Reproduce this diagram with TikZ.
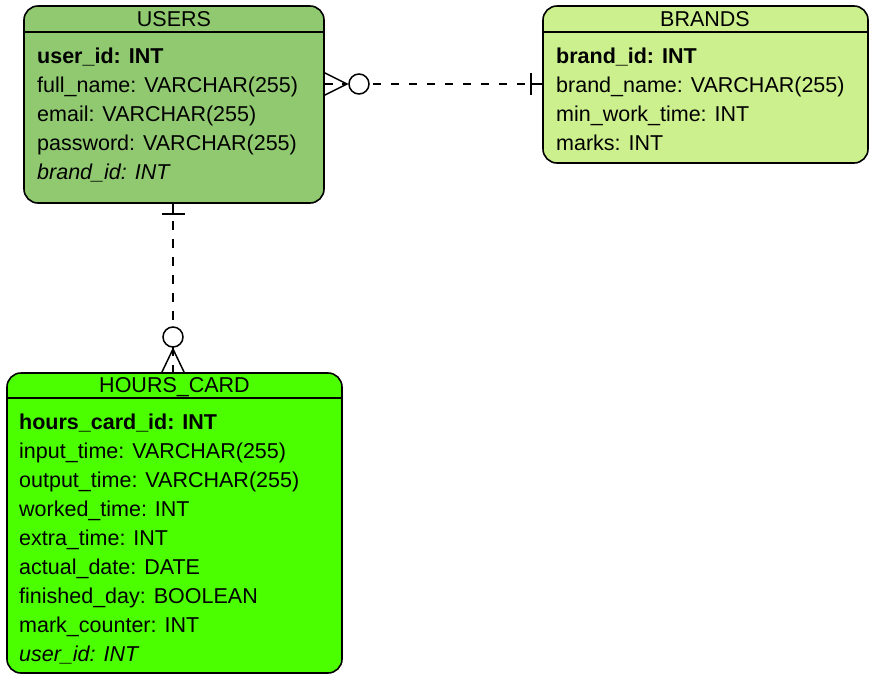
\documentclass[tikz,border=0pt]{standalone}
\usepackage{fontspec}
\setmainfont{Liberation Sans}
\definecolor{usersgreen}{RGB}{144,201,112}
\definecolor{brandsgreen}{RGB}{204,240,141}
\definecolor{hoursgreen}{RGB}{76,255,0}
\begin{document}
\begin{tikzpicture}[x=1pt,y=-1pt,
  tbl/.style={draw=black, line width=1.6pt, rounded corners=14pt, anchor=north west, inner sep=0pt, outer sep=0pt},
  hdr/.style={anchor=base, inner sep=0pt, font=\fontsize{21.5}{26}\selectfont},
  fld/.style={anchor=base west, inner sep=0pt, font=\fontsize{21.5}{26}\selectfont},
  rel/.style={line width=1.5pt, dash pattern=on 8.5pt off 9.5pt},
  sym/.style={line width=1.5pt},
  hline/.style={line width=1.6pt}]
\useasboundingbox (0,0) rectangle (871,681);

% USERS table
\node[tbl, fill=usersgreen, minimum width=300pt, minimum height=197pt] (users) at (24,6) {};
\draw[hline] (24,32) -- (324,32);
\node[hdr] (usersT) at (174,26) {USERS};
\node[fld] (u1) at (37,63) {\textbf{user\_id: INT}};
\node[fld] (u2) at (37,92) {full\_name: VARCHAR(255)};
\node[fld] (u3) at (37,121) {email: VARCHAR(255)};
\node[fld] (u4) at (37,150) {password: VARCHAR(255)};
\node[fld] (u5) at (37,179) {\textit{brand\_id: INT}};

% BRANDS table
\node[tbl, fill=brandsgreen, minimum width=325pt, minimum height=157pt] (brands) at (543,6) {};
\draw[hline] (543,32) -- (868,32);
\node[hdr] (brandsT) at (705,26) {BRANDS};
\node[fld] (b1) at (556,63) {\textbf{brand\_id: INT}};
\node[fld] (b2) at (556,92) {brand\_name: VARCHAR(255)};
\node[fld] (b3) at (556,121) {min\_work\_time: INT};
\node[fld] (b4) at (556,150) {marks: INT};

% HOURS_CARD table
\node[tbl, fill=hoursgreen, minimum width=335pt, minimum height=300pt] (hours) at (7,373) {};
\draw[hline] (7,398) -- (342,398);
\node[hdr] (hoursT) at (174.5,392) {HOURS\_CARD};
\node[fld] (h1) at (19,429) {\textbf{hours\_card\_id: INT}};
\node[fld] (h2) at (19,458) {input\_time: VARCHAR(255)};
\node[fld] (h3) at (19,487) {output\_time: VARCHAR(255)};
\node[fld] (h4) at (19,516) {worked\_time: INT};
\node[fld] (h5) at (19,545) {extra\_time: INT};
\node[fld] (h6) at (19,574) {actual\_date: DATE};
\node[fld] (h7) at (19,603) {finished\_day: BOOLEAN};
\node[fld] (h8) at (19,632) {mark\_counter: INT};
\node[fld] (h9) at (19,661) {\textit{user\_id: INT}};

% USERS -- BRANDS relation (many-optional to one)
\coordinate (uR) at (324,84);
\coordinate (bL) at (543,84);
\coordinate (cfA) at (347,84);
\coordinate (circA) at (369,84);
\coordinate (dashA) at (525,84);
\coordinate (barA) at (531,84);
\draw[rel] (uR) -- (cfA);
\draw[rel] (dashA) -- (circA);
\draw[sym] (324,72.5) -- (cfA) -- (324,95.5);
\draw[sym, fill=white] (359,84) circle (10pt);
\draw[sym] (531,73) -- (531,95);
\draw[sym] (barA) -- (bL);

% USERS -- HOURS_CARD relation (one to many-optional)
\coordinate (uB) at (173,203);
\coordinate (hT) at (173,373);
\coordinate (cfB) at (173,349);
\coordinate (barB) at (173,214);
\draw[rel] (uB) -- (hT);
\draw[sym] (uB) -- (barB);
\draw[sym] (162,214) -- (185,214);
\draw[sym, fill=white] (173,337) circle (10pt);
\draw[sym] (161.5,373) -- (cfB) -- (184.5,373);
\end{tikzpicture}
\end{document}
